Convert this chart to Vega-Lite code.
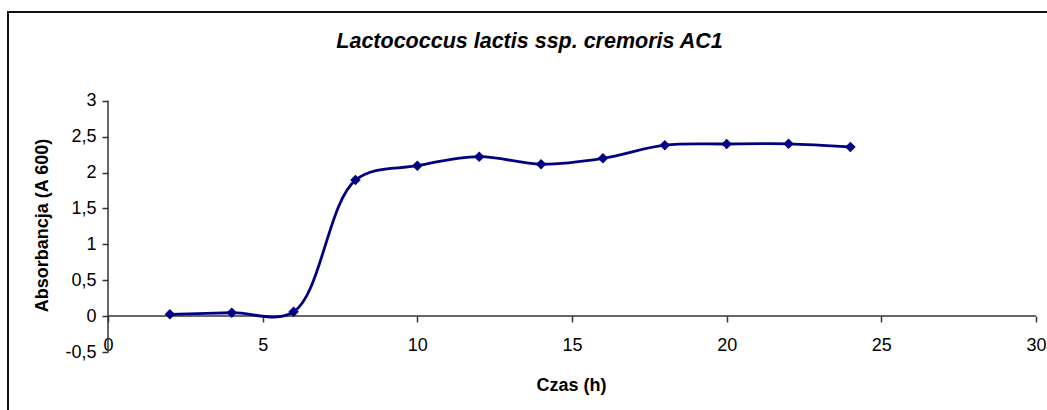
{
  "$schema": "https://vega.github.io/schema/vega-lite/v6.json",
  "autosize": {"type": "none"},
  "padding": {"left": 8, "top": 12, "right": -4, "bottom": -4},
  "width": 1043,
  "height": 402,
  "background": "white",
  "title": {
    "text": "Lactococcus lactis ssp. cremoris AC1",
    "fontSize": 21.5,
    "fontStyle": "italic",
    "fontWeight": "bold",
    "font": "Liberation Sans",
    "color": "black",
    "anchor": "middle",
    "frame": "group",
    "baseline": "alphabetic",
    "offset": -57
  },
  "config": {
    "font": "Liberation Sans",
    "view": {"stroke": "#111", "strokeWidth": 2}
  },
  "layer": [
    {
      "data": {"values": [
        {"x": 0, "x2": 0, "y": -0.5, "y2": 3},
        {"x": 0, "x2": 30, "y": 0, "y2": 0}
      ]},
      "mark": {"type": "rule", "color": "#333", "strokeWidth": 1.5},
      "encoding": {
        "x": {"field": "x", "type": "quantitative", "scale": {"domain": [-3.2328, 30.485], "nice": false, "zero": false}},
        "x2": {"field": "x2"},
        "y": {"field": "y", "type": "quantitative", "scale": {"domain": [-1.3635, 4.2354], "nice": false, "zero": false}},
        "y2": {"field": "y2"}
      }
    },
    {
      "data": {"values": [
        {"czas": 2, "abs": 0.025},
        {"czas": 4, "abs": 0.047},
        {"czas": 6, "abs": 0.06},
        {"czas": 8, "abs": 1.895},
        {"czas": 10, "abs": 2.095},
        {"czas": 12, "abs": 2.22},
        {"czas": 14, "abs": 2.115},
        {"czas": 16, "abs": 2.197},
        {"czas": 18, "abs": 2.38},
        {"czas": 20, "abs": 2.397},
        {"czas": 22, "abs": 2.4},
        {"czas": 24, "abs": 2.355}
      ]},
      "mark": {
        "type": "line",
        "interpolate": "catmull-rom",
        "color": "#000080",
        "strokeWidth": 2.8,
        "point": {"shape": "diamond", "size": 110, "filled": true, "color": "#000080", "opacity": 1}
      },
      "encoding": {
        "x": {
          "field": "czas", "type": "quantitative",
          "scale": {"domain": [-3.2328, 30.485], "nice": false, "zero": false},
          "axis": {
            "orient": "bottom", "offset": -98,
            "values": [0, 5, 10, 15, 20, 25, 30],
            "domain": false, "grid": false,
            "tickSize": 6, "tickColor": "#333", "tickWidth": 1.5,
            "labelFontSize": 18, "labelColor": "black", "labelPadding": 14,
            "labelFlush": false, "labelOverlap": false, "format": "d",
            "title": "Czas (h)", "titleFontSize": 18, "titleFontWeight": "bold", "titleColor": "black",
            "titleX": 563, "titleY": 74, "titleBaseline": "alphabetic", "titleAlign": "center"
          }
        },
        "y": {
          "field": "abs", "type": "quantitative",
          "scale": {"domain": [-1.3635, 4.2354], "nice": false, "zero": false},
          "axis": {
            "orient": "left", "offset": -100,
            "values": [-0.5, 0, 0.5, 1, 1.5, 2, 2.5, 3],
            "domain": false, "grid": false,
            "tickSize": 6, "tickColor": "#333", "tickWidth": 1.5,
            "labelFontSize": 18, "labelColor": "black", "labelPadding": 6,
            "labelExpr": "replace(datum.value + '', '.', ',')",
            "labelFlush": false, "labelOverlap": false,
            "title": "Absorbancja (A 600)", "titleFontSize": 18, "titleFontWeight": "bold", "titleColor": "black",
            "titleX": -61, "titleY": 213, "titleBaseline": "alphabetic", "titleAlign": "center", "titleAngle": 270
          }
        }
      }
    }
  ]
}
